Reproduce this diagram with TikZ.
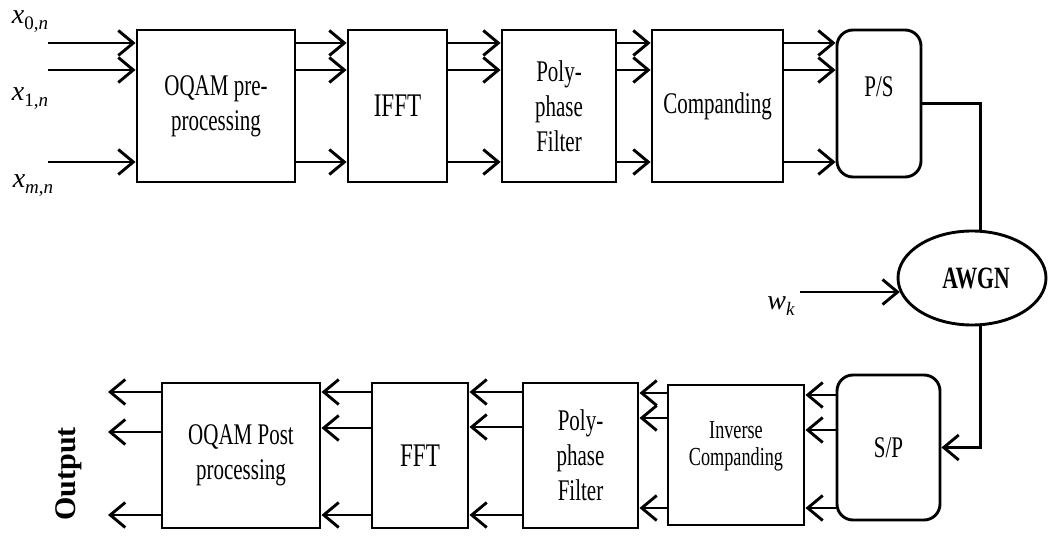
\documentclass[tikz,border=0pt]{standalone}
\usepackage{fontspec}
\usetikzlibrary{arrows.meta,shapes.geometric,calc}
\newfontfamily\tnr[FakeStretch=0.7]{Liberation Serif}
\newfontfamily\tnrplain{Liberation Serif}
\newcommand\mysubvar[2]{{\itshape #1}\raisebox{-6pt}{\fontsize{19}{19}\selectfont #2}}
\begin{document}
\begin{tikzpicture}[x=1pt,y=-1pt,line width=2.9pt,
  arr/.style={-{Straight Barb[length=15pt,width=25pt]}},
  blk/.style={draw,inner sep=0pt,align=center,font=\tnr\fontsize{30}{35}\selectfont},
  rblk/.style={blk,rounded corners=16pt},
  mlab/.style={inner sep=0pt,font=\tnrplain\fontsize{28}{30}\selectfont}]
\path[use as bounding box] (0,0) rectangle (1060,537);
% top row
\node[blk,minimum width=158pt,minimum height=152pt] (pre) at (216,106) {OQAM pre-\\processing};
\node[blk,minimum width=99pt,minimum height=152pt,font=\tnr\fontsize{33}{36}\selectfont] (ifft) at (397.5,106) {IFFT};
\node[blk,minimum width=114pt,minimum height=152pt] (polya) at (559,106) {Poly-\\phase\\Filter};
\node[blk,minimum width=131pt,minimum height=152pt] (comp) at (717.5,106) {Companding};
\node[rblk,minimum width=84pt,minimum height=147pt,text height=20pt,text depth=33pt] (ps) at (879,103.5) {P/S};
% channel
\node[draw,ellipse,inner sep=0pt,minimum width=148pt,minimum height=94pt,font=\tnr\bfseries\fontsize{31}{33}\selectfont] (awgn) at (972,278) {\hspace{8pt}AWGN};
% bottom row
\node[rblk,minimum width=103pt,minimum height=145pt] (sp) at (888.5,447.5) {S/P};
\node[blk,minimum width=136pt,minimum height=140pt,font=\tnr\fontsize{26}{27}\selectfont] (icomp) at (736,455) {Inverse\\Companding\\[-4pt]\mbox{}};
\node[blk,minimum width=115pt,minimum height=145pt] (polyb) at (580.5,455.5) {Poly-\\phase\\Filter};
\node[blk,minimum width=96pt,minimum height=145pt,font=\tnr\fontsize{33}{36}\selectfont] (fft) at (420,455.5) {FFT};
\node[blk,minimum width=158pt,minimum height=145pt] (post) at (241,455.5) {OQAM Post\\processing};
% input labels and coordinates
\node[mlab] (lx0) at (30,22) {\mysubvar{x}{0,\itshape n}};
\node[mlab] (lx1) at (30,99) {\mysubvar{x}{1,\itshape n}};
\node[mlab] (lxm) at (33,186) {\mysubvar{x}{{\itshape m},{\itshape n}}};
\coordinate (in0) at (48,43);
\coordinate (in1) at (48,70);
\coordinate (inm) at (48,162);
\foreach \c in {in0,in1,inm} \draw[arr] (\c) -- (\c -| pre.west);
\foreach \a/\b in {pre/ifft,ifft/polya,polya/comp,comp/ps}
  \foreach \y in {43,70,162}
    \draw[arr] (\a.east |- 0,\y) -- (\b.west |- 0,\y);
% channel connections
\draw (ps.east) -| (awgn.80);
\coordinate (wkin) at ($(awgn.191)+(-100,0)$);
\draw[arr] (wkin) -- (awgn.191);
\node[mlab] (lwk) at (781,306) {\mysubvar{w}{\itshape k}};
\draw[arr] (awgn.-80) |- (sp.east);
% bottom connections
\foreach \y in {395,430,508} \draw[arr] (sp.west |- 0,\y) -- (icomp.east |- 0,\y);
\foreach \y in {393,418,508} \draw[arr] (icomp.west |- 0,\y) -- (polyb.east |- 0,\y);
\foreach \y in {392,427,515} \draw[arr] (polyb.west |- 0,\y) -- (fft.east |- 0,\y);
\foreach \y in {392,428,515} \draw[arr] (fft.west |- 0,\y) -- (post.east |- 0,\y);
\coordinate (out0) at (108,392);
\coordinate (out1) at (108,432);
\coordinate (outm) at (108,515);
\foreach \c in {out0,out1,outm} \draw[arr] (post.west |- \c) -- (\c);
\node[rotate=90,anchor=base,inner sep=0pt,font=\tnrplain\bfseries\fontsize{30}{32}\selectfont] (outlab) at (75,474) {Output};
\end{tikzpicture}
\end{document}
